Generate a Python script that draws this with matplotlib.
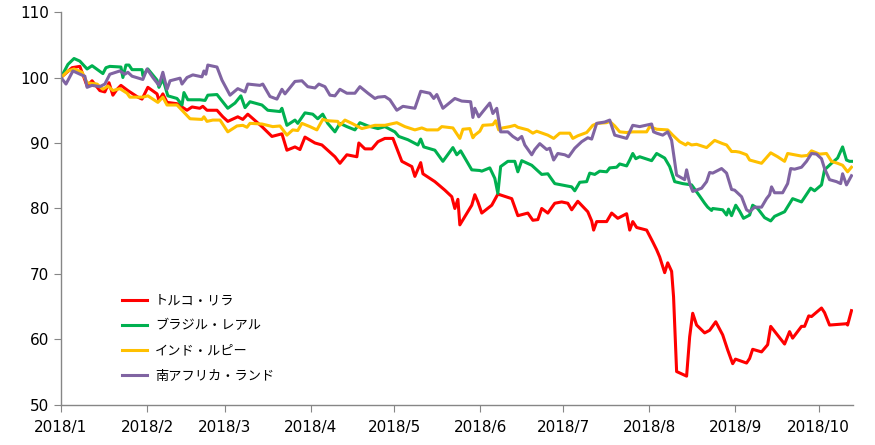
import matplotlib
matplotlib.use("Agg")
import matplotlib.pyplot as plt

plt.rcParams['font.family'] = ['Noto Sans CJK JP', 'DejaVu Sans']

# days counted from 2018/1/1, values indexed to 100
month_days = [0, 31, 59, 90, 120, 151, 181, 212, 243, 273]
month_labels = ['2018/1', '2018/2', '2018/3', '2018/4', '2018/5',
                '2018/6', '2018/7', '2018/8', '2018/9', '2018/10']

try_days = [0, 4, 6.8, 9.4, 11.2, 14, 15.8, 17.3, 18.7, 20.2, 21.6, 24.1, 27.7, 29.2, 31.3,
            34.6, 35.3, 36.7, 38.2, 41.8, 45.4, 47.2, 50, 51.1, 52.6, 56.2, 58.3, 60.1, 63.7,
            65.5, 67.3, 72.4, 76, 79.6, 81.4, 84.3, 86.1, 87.9, 91.5, 94, 98.7, 100.5, 103,
            106.6, 107.3, 109.5, 112, 114.2, 116.7, 119.6, 122.8, 126.4, 127.5, 129.6, 130.4,
            134.7, 138.3, 140.8, 141.9, 143, 143.7, 148, 149.1, 150.2, 151.6, 155.2, 157.4,
            162.4, 164.6, 168.2, 170, 171.8, 173.2, 175.4, 177.9, 180.4, 182.6, 184, 186.2,
            189.8, 191.2, 191.9, 193, 196.6, 198.4, 200.6, 203.8, 204.9, 206, 207.4, 211,
            213.2, 214.6, 215.7, 217.5, 218.6, 220, 220.7, 221.8, 225.4, 226.5, 227.6, 229,
            231.9, 233.7, 235.9, 238.4, 240.2, 242, 243, 247, 248.1, 249.2, 252.4, 254.6,
            255.7, 260.7, 262.5, 263.6, 266.8, 267.9, 269.4, 270.4, 274, 275.1, 276.9, 283,
            283.4, 284.8]
try_vals = [100, 101.5, 101.7, 98.7, 99.5, 98, 97.8, 99.2, 97.3, 98.2, 98.8, 98, 97, 96.7, 98.5,
            97.5, 96.5, 97.5, 96.2, 96, 95, 95.5, 95.3, 95.6, 95, 95, 94, 93.3, 94.0,
            93.6, 94.4, 92.5, 91.0, 91.4, 88.9, 89.4, 89.0, 90.9, 90.0, 89.7, 87.9, 86.9, 88.2,
            87.9, 90.0, 89.1, 89.1, 90.2, 90.7, 90.7, 87.2, 86.4, 84.9, 87.0, 85.3,
            84.1, 82.8, 81.8, 80.0, 81.4, 77.5, 80.5, 82.1, 81.0, 79.3, 80.5, 82.2,
            81.5, 78.9, 79.3, 78.2, 78.3, 80.0, 79.3, 80.8, 81.0, 80.8, 79.8, 81.1,
            79.5, 78.1, 76.7, 78.0, 78.0, 79.3, 78.5, 79.2, 76.7, 78.0, 77.1, 76.7,
            74.9, 73.7, 72.6, 70.2, 71.7, 70.4, 66.5, 55.1, 54.4, 60.4, 64.0, 62.2,
            61.0, 61.4, 62.7, 60.7, 58.4, 56.3, 57.0, 56.4, 57.1, 58.5, 58.1, 59.2,
            62.0, 59.3, 61.2, 60.2, 62.0, 62.0, 63.6, 63.5, 64.8, 64.1, 62.2, 62.4,
            62.2, 64.4]

brl_days = [0, 2.5, 4.7, 6.8, 9.4, 11.2, 15.1, 16.2, 17.6, 21.6, 22.3, 23.4, 24.5, 25.6, 29.2,
            29.5, 31.3, 34.6, 35.3, 36.7, 38.5, 41.8, 43.6, 44.3, 45.7, 50, 51.9, 52.9, 56.2,
            60.1, 62.7, 64.8, 66.3, 68.1, 72.4, 74.5, 78.9, 79.6, 81.4, 84.3, 85.3, 87.9, 90.7,
            92.5, 94.3, 96.1, 98.7, 100.5, 103, 105.9, 107.7, 110.6, 114.2, 116.7, 120.3, 121.7,
            125, 128.6, 129.6, 130.7, 134.7, 137.6, 141.2, 142.6, 144, 148, 150.9, 151.6, 154.5,
            156.3, 157.4, 158.4, 161, 163.5, 164.6, 166, 169.6, 173.2, 175.4, 177.9, 184, 185.1,
            186.9, 189.4, 190.5, 192.3, 194.1, 196.6, 197.7, 200.2, 201.3, 203.8, 204.9, 206,
            207.1, 208.5, 212.8, 214.6, 217.5, 219.3, 221.1, 224, 227.2, 230.1, 231.9, 233,
            234.4, 234.8, 238.4, 239.8, 240.5, 241.6, 243.1, 244.5, 245.9, 248.1, 249.2, 251,
            253.5, 255.7, 257.1, 260.7, 263.6, 266.8, 270.1, 271.5, 274, 275.1, 277.6, 279.8,
            281.6, 283, 284.1, 284.8]
brl_vals = [100, 102, 102.9, 102.5, 101.3, 101.8, 100.6, 101.5, 101.7, 101.6, 100, 101.9, 101.9, 101.2, 101.2,
            100.3, 101.3, 99.6, 98.5, 99.8, 97.2, 96.8, 95.8, 97.7, 96.6, 96.6, 96.5, 97.3, 97.4,
            95.3, 96.1, 97.2, 95.4, 96.3, 95.8, 95.0, 94.8, 95.3, 92.7, 93.5, 93.0, 94.6, 94.4,
            93.7, 94.4, 93.0, 91.7, 93.0, 92.5, 92.0, 93.1, 92.6, 92.2, 92.5, 91.7, 91.0,
            90.5, 89.7, 90.6, 89.4, 88.9, 87.2, 89.3, 88.2, 88.8, 85.9, 85.8, 85.7, 86.2,
            84.6, 82.3, 86.4, 87.2, 87.2, 85.6, 87.3, 86.6, 85.2, 85.3, 83.8, 83.3, 82.7,
            84.0, 84.1, 85.4, 85.2, 85.7, 85.6, 86.2, 86.3, 86.8, 86.5, 87.4, 88.4,
            87.6, 87.9, 87.3, 88.4, 87.7, 86.4, 84.1, 83.8, 83.6, 81.9, 80.8, 80.2,
            79.7, 80.0, 79.8, 79.0, 79.9, 78.9, 80.5, 79.6, 78.5, 79.0, 80.5, 80.0,
            78.6, 78.1, 78.8, 79.5, 81.5, 81.0, 83.1, 82.7, 83.6, 85.9, 86.9, 87.7,
            89.4, 87.4, 87.2, 87.2]

inr_days = [0, 2.5, 4.7, 7.6, 9.4, 13, 15.1, 16.9, 18.7, 21.2, 23.8, 24.8, 29.5, 31.3, 34.9,
            36.7, 38.2, 41.8, 43.6, 46.5, 50.8, 51.5, 52.6, 54.7, 57.3, 60.1, 63.4, 65.5, 67,
            68.1, 72.4, 76.3, 78.9, 81.4, 83.5, 85.3, 86.8, 89.7, 92.2, 94.3, 96.1, 99.7, 100.5,
            102.3, 104.8, 108.4, 113.1, 116.7, 121, 123.9, 127.5, 130, 131.8, 135.8, 137.2,
            141.2, 143.7, 144.8, 147.3, 148.4, 149.1, 150.9, 152, 155.6, 156.6, 157.7, 159.1,
            161.7, 163.5, 164.6, 168.2, 170, 171.4, 175.4, 177.5, 179.7, 183.3, 184.4, 186.2,
            189.4, 191.6, 193.4, 196.6, 197.7, 199.5, 201.3, 203.8, 206, 211, 212.1, 214.6,
            218.6, 220.4, 222.9, 225.1, 225.8, 227.2, 229, 232.6, 235.5, 238.4, 239.8, 241.6,
            243.1, 244.5, 247, 248.1, 252.4, 255.7, 258.2, 260.7, 261.8, 266.8, 269, 270.4,
            273.3, 275.8, 277.6, 279.8, 281.6, 283.4, 284.8]
inr_vals = [100, 101, 101.3, 100.8, 99.2, 99, 98.2, 98.7, 98, 98.3, 97.6, 97, 97, 97.2, 96.2,
            97, 95.8, 95.8, 95, 93.7, 93.6, 94, 93.3, 93.5, 93.5, 91.7, 92.6, 92.7, 92.4,
            93.0, 92.9, 92.5, 92.6, 91.2, 92.0, 91.9, 93.0, 92.5, 92.0, 93.6, 93.4, 93.3, 92.7,
            93.5, 93.0, 92.2, 92.7, 92.7, 93.1, 92.5, 92.0, 92.3, 92.0, 92.0, 92.5,
            92.3, 90.7, 92.1, 92.2, 90.8, 91.2, 91.8, 92.7, 92.8, 93.4, 92.0, 92.3,
            92.5, 92.7, 92.4, 92.0, 91.5, 91.8, 91.2, 90.7, 91.5, 91.5, 90.7, 91.1,
            91.6, 92.7, 93.0, 93.1, 93.3, 92.6, 91.7, 91.6, 91.7, 91.7, 92.5, 92.1,
            92.0, 91.2, 90.2, 89.7, 90.0, 89.7, 89.8, 89.3, 90.4, 89.9, 89.7, 88.7,
            88.7, 88.6, 88.2, 87.4, 86.9, 88.5, 87.9, 87.2, 88.4, 88.0, 88.1, 88.8,
            88.3, 88.4, 87.2, 86.9, 86.6, 85.6, 86.3]

zar_days = [0, 1.8, 4.3, 7.9, 8.6, 9.4, 11.2, 14, 15.8, 17.6, 21.2, 23, 24.1, 25.6, 29.5,
            31, 33.1, 35.3, 36.7, 38.2, 39.3, 42.9, 43.6, 45.4, 47.5, 50.8, 51.5, 52.2, 52.9,
            56.2, 58, 60.9, 63.7, 66.3, 67.3, 71.7, 72.7, 75.3, 77.8, 79.6, 80.7, 84.3, 86.8,
            88.9, 91.5, 92.9, 95.1, 96.9, 98.7, 100.5, 103, 105.9, 107.7, 110.6, 113.1, 114.2,
            116.7, 118.5, 121, 123.2, 127.5, 129.6, 132.9, 134.3, 135.4, 137.6, 141.9, 144.4,
            147.6, 148.4, 149.1, 150.5, 152, 154.5, 155.6, 157, 158.4, 161, 162.8, 164.6, 166,
            167.1, 169.6, 170.7, 172.5, 175, 176.1, 177.5, 179, 181.5, 182.9, 185.1, 187.6,
            189.8, 191.2, 193, 195.9, 197.7, 199.5, 203.8, 206, 208.5, 212.8, 213.5, 214.6,
            216.8, 218.6, 220, 221.8, 224.7, 225.4, 226.5, 227.6, 230.8, 232.6, 233.7, 234.8,
            238, 239.8, 241.6, 242.7, 245.2, 247, 248.1, 249.9, 252.4, 254.2, 255.3, 256,
            257.1, 260, 261.8, 262.9, 264.3, 266.8, 268.6, 270.4, 272.2, 274, 275.1, 276.9,
            279.4, 280.9, 281.6, 283, 284.8]
zar_vals = [100, 99, 101, 100.3, 100.2, 98.5, 98.8, 98.6, 99.0, 100.5, 101, 100.5, 100.8, 100.2, 99.7,
            101.3, 100, 98.8, 100.8, 98.2, 99.5, 99.9, 99, 100, 100.4, 100.1, 101, 100.5, 101.9,
            101.6, 99.6, 97.3, 98.3, 97.8, 99.0, 98.8, 99.0, 97.1, 96.7, 98.2, 97.5, 99.4, 99.5,
            98.6, 98.4, 99.0, 98.6, 97.3, 97.2, 98.2, 97.6, 97.6, 98.6, 97.6, 96.8, 97.0,
            97.1, 96.6, 95.0, 95.6, 95.3, 97.9, 97.6, 96.8, 97.4, 95.3, 96.8, 96.4,
            96.3, 93.9, 95.3, 94.0, 94.8, 96.1, 94.5, 95.3, 91.7, 91.7, 91.0, 90.5, 91.0,
            89.7, 88.2, 89.0, 89.9, 89.0, 89.2, 87.4, 88.4, 88.2, 87.9, 89.2, 90.2,
            90.8, 90.6, 93.0, 93.2, 93.5, 91.2, 90.7, 92.7, 92.5, 92.9, 91.7, 91.5,
            91.2, 91.7, 90.4, 85.1, 84.4, 85.9, 83.8, 82.6, 83.1, 84.1, 85.5, 85.4,
            86.1, 85.4, 82.9, 82.8, 81.8, 79.8, 79.5, 80.2, 80.2, 81.5, 82.1, 83.3,
            82.4, 82.4, 83.8, 86.1, 86.0, 86.3, 87.2, 88.4, 88.3, 87.6, 86.1, 84.4,
            84.1, 83.8, 85.3, 83.6, 85.0]

names = ['トルコ・リラ', 'ブラジル・レアル', 'インド・ルピー', '南アフリカ・ランド']
colors = ['#FF0000', '#00B050', '#FFC000', '#8064A2']

fig = plt.figure(figsize=(8.75, 4.45), dpi=100)
ax = fig.add_axes([0.0697, 0.09, 0.905, 0.883])

series = [(try_days, try_vals), (brl_days, brl_vals), (inr_days, inr_vals), (zar_days, zar_vals)]
for (d, v), name, c in zip(series, names, colors):
    ax.plot(d, v, color=c, lw=2.2, label=name, solid_joinstyle='round')

ax.set_xlim(0, 285.3)
ax.set_ylim(50, 110)
ax.set_yticks(range(50, 111, 10))
ax.set_xticks(month_days)
ax.set_xticklabels(month_labels)

for s in ['top', 'right']:
    ax.spines[s].set_visible(False)
for s in ['left', 'bottom']:
    ax.spines[s].set_color('#868686')
    ax.spines[s].set_linewidth(1.0)
ax.tick_params(axis='both', colors='#868686', length=5, labelsize=11, labelcolor='black')
ax.tick_params(axis='x', pad=6)
for lab in ax.get_xticklabels() + ax.get_yticklabels():
    lab.set_fontfamily('DejaVu Sans')

ax.legend(loc='upper left', bbox_to_anchor=(0.062, 0.312), frameon=False, fontsize=9.5,
          handlelength=1.9, handletextpad=0.6, labelspacing=0.92)

fig.savefig('out.png', dpi=100)
